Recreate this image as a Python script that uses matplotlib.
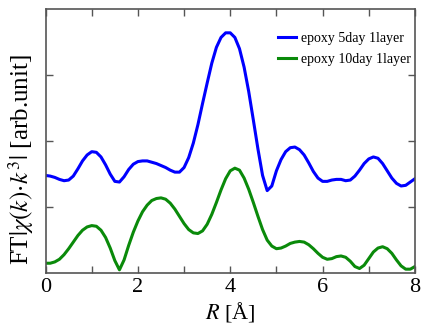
import matplotlib
matplotlib.use("Agg")
import matplotlib.pyplot as plt
import numpy as np

plt.rcParams['font.family'] = ['Liberation Serif', 'DejaVu Serif']
plt.rcParams['mathtext.fontset'] = 'stix'

# R values (Angstrom)
r_val = [0.0, 0.1, 0.2, 0.3, 0.4, 0.5, 0.6, 0.7, 0.8, 0.9,
         1.0, 1.1, 1.2, 1.3, 1.4, 1.5, 1.6, 1.7, 1.8, 1.9,
         2.0, 2.1, 2.2, 2.3, 2.4, 2.5, 2.6, 2.7, 2.8, 2.9,
         3.0, 3.1, 3.2, 3.3, 3.4, 3.5, 3.6, 3.7, 3.8, 3.9,
         4.0, 4.1, 4.2, 4.3, 4.4, 4.5, 4.6, 4.7, 4.8, 4.9,
         5.0, 5.1, 5.2, 5.3, 5.4, 5.5, 5.6, 5.7, 5.8, 5.9,
         6.0, 6.1, 6.2, 6.3, 6.4, 6.5, 6.6, 6.7, 6.8, 6.9,
         7.0, 7.1, 7.2, 7.3, 7.4, 7.5, 7.6, 7.7, 7.8, 7.9, 8.0]

ft_5day = [1.48, 1.47, 1.45, 1.42, 1.40, 1.41, 1.47, 1.58, 1.70, 1.79,
           1.84, 1.83, 1.76, 1.64, 1.50, 1.39, 1.38, 1.46, 1.57, 1.65,
           1.69, 1.70, 1.70, 1.68, 1.66, 1.63, 1.60, 1.56, 1.53, 1.53,
           1.60, 1.75, 1.97, 2.25, 2.57, 2.88, 3.18, 3.42, 3.57, 3.64,
           3.64, 3.57, 3.40, 3.12, 2.75, 2.32, 1.88, 1.48, 1.25, 1.32,
           1.55, 1.72, 1.84, 1.90, 1.91, 1.87, 1.79, 1.67, 1.54, 1.44,
           1.39, 1.39, 1.41, 1.42, 1.42, 1.40, 1.41, 1.47, 1.56, 1.66,
           1.73, 1.76, 1.74, 1.66, 1.55, 1.44, 1.36, 1.32, 1.33, 1.38, 1.43]

ft_10day = [0.15, 0.15, 0.17, 0.21, 0.28, 0.37, 0.47, 0.57, 0.65, 0.70,
            0.72, 0.71, 0.65, 0.54, 0.38, 0.19, 0.05, 0.20, 0.42, 0.62,
            0.79, 0.93, 1.03, 1.10, 1.13, 1.14, 1.12, 1.06, 0.97, 0.86,
            0.75, 0.66, 0.61, 0.60, 0.64, 0.74, 0.89, 1.07, 1.26, 1.43,
            1.55, 1.59, 1.56, 1.44, 1.27, 1.07, 0.86, 0.66, 0.50, 0.41,
            0.37, 0.38, 0.41, 0.45, 0.47, 0.48, 0.47, 0.43, 0.37, 0.30,
            0.24, 0.21, 0.22, 0.25, 0.26, 0.24, 0.18, 0.10, 0.07, 0.12,
            0.22, 0.32, 0.38, 0.40, 0.37, 0.30, 0.20, 0.11, 0.06, 0.06, 0.10]

fig = plt.figure(figsize=(4.26, 3.24), dpi=100)
ax = fig.add_axes([0.107, 0.157, 0.867, 0.815])

ax.plot(r_val, ft_5day, color='#0000ff', lw=2.2, label='epoxy 5day 1layer')
ax.plot(r_val, ft_10day, color='#0a8a0a', lw=2.2, label='epoxy 10day 1layer')

ax.set_xlim(0, 8)
ax.set_ylim(0, 4)
ax.set_xticks([0, 2, 4, 6, 8])
ax.set_xticks(np.arange(0, 9, 1), minor=True)
ax.set_yticks([1, 2, 3])
ax.set_yticklabels([])
ax.tick_params(which='both', direction='in', top=True, right=True,
               length=5, width=1, color='#555555', labelsize=16)
for sp in ax.spines.values():
    sp.set_color('#555555')
    sp.set_linewidth(1.2)

ax.set_xlabel(r'$R$ [Å]', fontsize=16, labelpad=2)
ax.set_ylabel(r'FT$|\chi(k)\!\cdot\! k^3|$ [arb.unit]', fontsize=18)
ax.yaxis.set_label_coords(-0.025, 0.43)

ax.legend(loc='upper right', frameon=False, fontsize=10, handlelength=1.3,
          handletextpad=0.4, borderaxespad=0.6, labelspacing=0.6,
          bbox_to_anchor=(1.027, 0.966))

fig.savefig('out.png', dpi=100)
